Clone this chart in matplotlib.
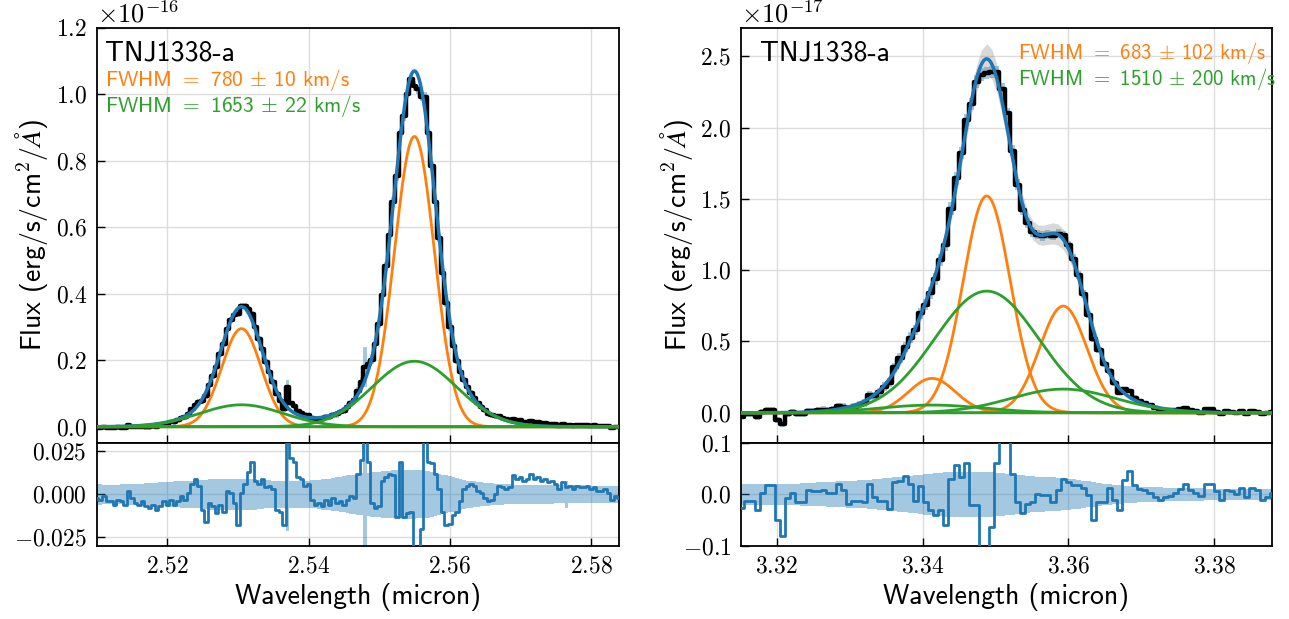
import numpy as np
import matplotlib
matplotlib.use('Agg')
import matplotlib.pyplot as plt
from matplotlib.ticker import FuncFormatter, MultipleLocator

plt.rcParams['font.family'] = ['cmss10', 'DejaVu Sans']
plt.rcParams['mathtext.fontset'] = 'cm'
plt.rcParams['axes.unicode_minus'] = False

C_KMS = 299792.458

# ---- left panel: [OIII] 4959/5007 (flux in 1e-16) ----
wave_l_start, wave_l_step = 2.5100, 0.0005
flux_l = [-0.002, -0.003, -0.001, -0.004, -0.004, -0.005, -0.002, -0.003, -0.005, 0.004,
          0.000, -0.002, -0.002, 0.000, -0.002, -0.002, 0.002, 0.000, 0.004, 0.008,
          0.009, 0.014, 0.014, 0.019, 0.026, 0.029, 0.039, 0.052, 0.066, 0.075,
          0.077, 0.091, 0.126, 0.152, 0.180, 0.218, 0.248, 0.293, 0.321, 0.337,
          0.338, 0.362, 0.362, 0.355, 0.339, 0.299, 0.264, 0.233, 0.195, 0.164,
          0.135, 0.099, 0.078, 0.053, 0.119, 0.070, 0.061, 0.047, 0.042, 0.035,
          0.034, 0.025, 0.022, 0.023, 0.022, 0.028, 0.028, 0.036, 0.037, 0.044,
          0.048, 0.059, 0.070, 0.081, 0.109, 0.136, 0.179, 0.188, 0.202, 0.248,
          0.309, 0.397, 0.482, 0.578, 0.676, 0.753, 0.882, 0.934, 1.002, 1.045,
          1.025, 1.015, 0.993, 0.992, 0.882, 0.784, 0.677, 0.569, 0.462, 0.371,
          0.299, 0.244, 0.197, 0.165, 0.141, 0.119, 0.102, 0.086, 0.071, 0.060,
          0.049, 0.039, 0.034, 0.031, 0.032, 0.027, 0.022, 0.020, 0.024, 0.020,
          0.019, 0.015, 0.015, 0.017, 0.013, 0.013, 0.010, 0.011, 0.008, 0.009,
          0.007, 0.003, 0.007, 0.004, 0.005, 0.003, 0.005, 0.004, 0.004, 0.005,
          0.003, 0.004, 0.002, 0.002, 0.003, 0.001, -0.003, -0.001, -0.002]
resid_l = [-0.002, -0.003, -0.001, -0.004, -0.004, -0.006, -0.003, -0.004, -0.006, 0.002,
           -0.002, -0.005, -0.006, -0.004, -0.007, -0.008, -0.006, -0.009, -0.007, -0.004,
           -0.006, -0.003, -0.006, -0.004, -0.001, -0.003, 0.001, 0.006, 0.009, 0.005,
           -0.009, -0.016, -0.005, -0.007, -0.011, -0.006, -0.010, 0.002, 0.001, -0.005,
           -0.018, 0.001, 0.006, 0.013, 0.019, 0.008, 0.006, 0.009, 0.004, 0.005,
           0.003, -0.009, -0.010, -0.018, 0.060, 0.021, 0.019, 0.010, 0.009, 0.005,
           0.006, -0.003, -0.006, -0.005, -0.007, -0.003, -0.006, -0.002, -0.005, -0.004,
           -0.006, -0.003, -0.001, -0.002, 0.012, 0.020, 0.040, 0.019, -0.005, -0.008,
           -0.007, 0.008, 0.010, 0.012, 0.011, -0.013, 0.019, -0.013, -0.011, -0.010,
           -0.045, -0.040, -0.020, 0.045, 0.019, 0.018, 0.012, 0.003, -0.010, -0.018,
           -0.017, -0.012, -0.010, -0.004, 0.003, 0.005, 0.006, 0.005, 0.002, 0.001,
           -0.002, -0.004, -0.003, 0.000, 0.005, 0.004, 0.003, 0.004, 0.011, 0.009,
           0.010, 0.008, 0.009, 0.012, 0.009, 0.010, 0.008, 0.009, 0.007, 0.008,
           0.006, 0.003, 0.007, 0.004, 0.005, 0.003, 0.005, 0.004, 0.004, 0.005,
           0.003, 0.004, 0.002, 0.002, 0.003, 0.001, -0.003, -0.001, -0.002]
err_l = [0.006, 0.006, 0.0055, 0.0055, 0.0055, 0.0055, 0.0055, 0.0058, 0.0058, 0.006,
         0.006, 0.006, 0.0062, 0.0062, 0.0065, 0.0065, 0.0068, 0.0068, 0.007, 0.007,
         0.0072, 0.0072, 0.0075, 0.0075, 0.0078, 0.0078, 0.008, 0.008, 0.0082, 0.0082,
         0.0085, 0.0085, 0.0088, 0.0088, 0.009, 0.009, 0.009, 0.0092, 0.0092, 0.0092,
         0.0092, 0.0092, 0.009, 0.009, 0.0088, 0.0088, 0.0085, 0.0085, 0.0082, 0.0082,
         0.008, 0.008, 0.008, 0.008, 0.021, 0.0078, 0.0078, 0.0078, 0.008, 0.008,
         0.008, 0.0082, 0.0082, 0.0085, 0.0088, 0.009, 0.0092, 0.0095, 0.0098, 0.010,
         0.0105, 0.011, 0.0112, 0.0115, 0.012, 0.0122, 0.060, 0.0125, 0.013, 0.013,
         0.0132, 0.0135, 0.0135, 0.0138, 0.014, 0.014, 0.014, 0.0142, 0.0142, 0.0142,
         0.0142, 0.014, 0.014, 0.0138, 0.0135, 0.013, 0.0125, 0.012, 0.0115, 0.011,
         0.0105, 0.010, 0.0095, 0.009, 0.0085, 0.008, 0.0078, 0.0075, 0.0072, 0.007,
         0.0068, 0.0066, 0.0064, 0.0062, 0.006, 0.006, 0.0058, 0.0058, 0.0056, 0.0056,
         0.0055, 0.0055, 0.0055, 0.0055, 0.0055, 0.0054, 0.0054, 0.0054, 0.0054, 0.0054,
         0.0053, 0.0053, 0.0053, 0.008, 0.0053, 0.0052, 0.0052, 0.0052, 0.0052, 0.0052,
         0.005, 0.005, 0.005, 0.005, 0.005, 0.005, 0.005, 0.005, 0.005]
narrow_l_cen = [2.5305, 2.5550]
narrow_l_amp = [0.295, 0.873]
broad_l_cen = [2.5305, 2.5550]
broad_l_amp = [0.066, 0.197]
fwhm_l = [780, 1653]
fwhm_l_err = [10, 22]

# ---- right panel: Halpha + [NII] (flux in 1e-17) ----
wave_r_start, wave_r_step = 3.3152, 0.0007
flux_r = [-0.027, -0.012, -0.012, -0.031, 0.003, 0.019, 0.019, -0.050, -0.080, -0.008,
          0.005, -0.011, -0.010, 0.014, 0.013, 0.016, 0.021, 0.018, 0.023, 0.046,
          0.041, 0.024, 0.041, 0.054, 0.068, 0.122, 0.120, 0.145, 0.183, 0.212,
          0.319, 0.383, 0.464, 0.527, 0.579, 0.697, 0.757, 0.840, 0.938, 1.068,
          1.178, 1.432, 1.644, 1.822, 2.053, 2.166, 2.322, 2.371, 2.381, 2.389,
          2.391, 2.270, 2.100, 1.838, 1.600, 1.425, 1.332, 1.265, 1.250, 1.241,
          1.250, 1.243, 1.257, 1.245, 1.176, 1.081, 0.967, 0.833, 0.689, 0.518,
          0.440, 0.344, 0.292, 0.208, 0.141, 0.164, 0.154, 0.107, 0.083, 0.067,
          0.051, 0.035, 0.022, 0.021, 0.018, 0.020, 0.024, 0.031, 0.017, 0.009,
          0.001, 0.024, 0.023, 0.008, -0.009, 0.009, 0.007, 0.001, 0.013, -0.006,
          0.012, 0.008, -0.011, -0.005, 0.002]
resid_r = [-0.027, -0.012, -0.012, -0.031, 0.003, 0.019, 0.019, -0.050, -0.080, -0.008,
           0.003, -0.014, -0.014, 0.008, 0.006, 0.006, 0.008, 0.002, 0.002, 0.020,
           0.008, -0.018, -0.012, -0.012, -0.014, 0.020, -0.006, -0.012, -0.012, -0.028,
           0.024, 0.026, 0.035, 0.020, -0.012, 0.017, -0.015, -0.030, -0.040, -0.030,
           -0.060, 0.030, 0.057, 0.034, 0.060, -0.021, -0.021, -0.110, -0.120, -0.063,
           0.060, 0.110, 0.110, 0.040, -0.015, -0.037, -0.018, -0.015, 0.001, -0.002,
           -0.002, -0.015, 0.008, 0.030, 0.024, 0.019, 0.018, 0.012, -0.002, -0.050,
           -0.015, -0.015, 0.012, -0.011, -0.030, 0.028, 0.045, 0.019, 0.011, 0.008,
           0.002, -0.006, -0.011, -0.006, -0.004, 0.002, 0.010, 0.020, 0.008, 0.002,
           -0.004, 0.020, 0.020, 0.006, -0.011, 0.008, 0.006, 0.000, 0.012, -0.006,
           0.012, 0.008, -0.011, -0.005, 0.002]
err_r = [0.020, 0.020, 0.020, 0.020, 0.020, 0.020, 0.020, 0.020, 0.020, 0.020,
         0.021, 0.021, 0.022, 0.022, 0.022, 0.023, 0.023, 0.024, 0.024, 0.025,
         0.025, 0.026, 0.026, 0.027, 0.027, 0.028, 0.029, 0.030, 0.031, 0.032,
         0.033, 0.034, 0.035, 0.036, 0.037, 0.038, 0.039, 0.040, 0.041, 0.042,
         0.043, 0.043, 0.044, 0.044, 0.044, 0.044, 0.044, 0.044, 0.043, 0.043,
         0.042, 0.041, 0.040, 0.039, 0.038, 0.037, 0.036, 0.035, 0.034, 0.034,
         0.033, 0.033, 0.032, 0.031, 0.030, 0.029, 0.028, 0.026, 0.025, 0.024,
         0.022, 0.021, 0.020, 0.019, 0.018, 0.017, 0.016, 0.016, 0.015, 0.015,
         0.014, 0.014, 0.014, 0.013, 0.013, 0.013, 0.012, 0.012, 0.012, 0.012,
         0.012, 0.011, 0.011, 0.011, 0.011, 0.011, 0.010, 0.010, 0.010, 0.010,
         0.010, 0.010, 0.010, 0.010, 0.010]
model_err_r = [0.010] * 20 + [
    0.012, 0.013, 0.014, 0.015, 0.016, 0.018, 0.020, 0.022, 0.024, 0.026,
    0.028, 0.030, 0.032, 0.034, 0.036, 0.038, 0.040, 0.042, 0.045, 0.048,
    0.052, 0.057, 0.063, 0.070, 0.078, 0.086, 0.094, 0.100, 0.105, 0.105,
    0.100, 0.094, 0.086, 0.078, 0.072, 0.068, 0.066, 0.066, 0.068, 0.070,
    0.072, 0.074, 0.074, 0.072, 0.068, 0.062, 0.056, 0.050, 0.045, 0.040,
    0.036, 0.032, 0.029, 0.026, 0.023, 0.020, 0.018, 0.016, 0.015, 0.014,
    0.013, 0.012, 0.012, 0.011, 0.011] + [0.010] * 20
narrow_r_cen = [3.3413, 3.3488, 3.3593]
narrow_r_amp = [0.241, 1.520, 0.748]
broad_r_cen = [3.3413, 3.3488, 3.3593]
broad_r_amp = [0.054, 0.853, 0.166]
fwhm_r = [683, 1510]
fwhm_r_err = [102, 200]


def gauss(x, amp, cen, fwhm):
    sig = cen * fwhm / C_KMS / (2 * np.sqrt(2 * np.log(2)))
    return amp * np.exp(-0.5 * ((x - cen) / sig) ** 2)


def mfmt(fmt):
    def f(v, pos):
        s = fmt.format(v)
        if s.startswith('-') and float(s) == 0:
            s = s[1:]
        return '$' + s + '$'
    return FuncFormatter(f)


def style(ax):
    ax.tick_params(direction='in', length=6, width=1.0, labelsize=17, pad=7,
                   top=False, right=False)
    ax.grid(True, color='#dcdcdc', lw=1.0)
    ax.set_axisbelow(True)
    for sp in ax.spines.values():
        sp.set_linewidth(1.3)


def draw(ax, axr, wave, flux, err, resid, ncen, namp, bcen, bamp, fwhm,
         xlim, model_err=None):
    wave = np.asarray(wave)
    flux = np.asarray(flux)
    err = np.asarray(err)
    xf = np.linspace(xlim[0], xlim[1], 1500)
    narrow = [gauss(xf, a, c, fwhm[0]) for c, a in zip(ncen, namp)]
    broad = [gauss(xf, a, c, fwhm[1]) for c, a in zip(bcen, bamp)]
    total = np.sum(narrow, axis=0) + np.sum(broad, axis=0)

    ax.fill_between(wave, flux - err, flux + err, step='mid', color='#1f77b4',
                    alpha=0.4, lw=0, zorder=2)
    if model_err is not None:
        mod = sum(gauss(wave, a, c, fwhm[0]) for c, a in zip(ncen, namp)) + \
            sum(gauss(wave, a, c, fwhm[1]) for c, a in zip(bcen, bamp))
        me = np.asarray(model_err)
        ax.fill_between(wave, mod - me, mod + me, color='gray', alpha=0.3,
                        lw=0, zorder=2.5)
    ax.step(wave, flux, where='mid', color='k', lw=3.2, zorder=3)
    ax.plot(xf, total, color='#1f77b4', lw=2.5, zorder=4)
    for n in narrow:
        ax.plot(xf, n, color='#ff7f0e', lw=2.0, zorder=5)
    for b in broad:
        ax.plot(xf, b, color='#2ca02c', lw=2.0, zorder=6)
    ax.plot(xf, np.zeros_like(xf), color='#2ca02c', lw=2.0, zorder=6)

    axr.fill_between(wave, -err, err, step='mid', color='#1f77b4', alpha=0.4,
                     lw=0, zorder=2)
    axr.step(wave, resid, where='mid', color='#1f77b4', lw=2.0, zorder=3)

    for a in (ax, axr):
        a.set_xlim(*xlim)
        style(a)
    ax.tick_params(labelbottom=False)
    ax.xaxis.set_major_locator(MultipleLocator(0.02))
    axr.xaxis.set_major_locator(MultipleLocator(0.02))
    axr.xaxis.set_major_formatter(mfmt('{:.2f}'))
    ax.set_ylabel(r'Flux (erg/s/cm$^2$/$\AA$)', fontsize=20)
    axr.set_xlabel('Wavelength (micron)', fontsize=20)


fig = plt.figure(figsize=(12.89, 6.19), dpi=100)

# left
wave_l = wave_l_start + wave_l_step * np.arange(len(flux_l))
axL = fig.add_axes([0.075, 0.2848, 0.4054, 0.6704])
axLr = fig.add_axes([0.075, 0.1179, 0.4054, 0.1669])
draw(axL, axLr, wave_l, flux_l, err_l, resid_l, narrow_l_cen, narrow_l_amp,
     broad_l_cen, broad_l_amp, fwhm_l, (2.510, 2.584))
axL.set_ylim(-0.048, 1.2)
axL.yaxis.set_major_locator(MultipleLocator(0.2))
axL.yaxis.set_major_formatter(mfmt('{:.1f}'))
axLr.set_ylim(-0.03, 0.03)
axLr.yaxis.set_major_locator(MultipleLocator(0.025))
axLr.yaxis.set_major_formatter(mfmt('{:.3f}'))
axL.text(0.0, 1.0, r'$\times10^{-16}$', transform=axL.transAxes, fontsize=19,
         ha='left', va='bottom')
axL.text(0.016, 0.92, 'TNJ1338-a', transform=axL.transAxes, fontsize=20,
         va='baseline')
axL.text(0.016, 0.8595, r'FWHM $=$ %d $\pm$ %d km/s' % (fwhm_l[0], fwhm_l_err[0]),
         transform=axL.transAxes, fontsize=15.5, color='#ff7f0e', va='baseline')
axL.text(0.016, 0.796, r'FWHM $=$ %d $\pm$ %d km/s' % (fwhm_l[1], fwhm_l_err[1]),
         transform=axL.transAxes, fontsize=15.5, color='#2ca02c', va='baseline')

# right
wave_r = wave_r_start + wave_r_step * np.arange(len(flux_r))
axR = fig.add_axes([0.5749, 0.2848, 0.4117, 0.6704])
axRr = fig.add_axes([0.5749, 0.1179, 0.4117, 0.1669])
draw(axR, axRr, wave_r, flux_r, err_r, resid_r, narrow_r_cen, narrow_r_amp,
     broad_r_cen, broad_r_amp, fwhm_r, (3.3151, 3.3879), model_err=model_err_r)
axR.set_ylim(-0.21, 2.7)
axR.yaxis.set_major_locator(MultipleLocator(0.5))
axR.yaxis.set_major_formatter(mfmt('{:.1f}'))
axRr.set_ylim(-0.1, 0.1)
axRr.yaxis.set_major_locator(MultipleLocator(0.1))
axRr.yaxis.set_major_formatter(mfmt('{:.1f}'))
axR.text(0.0, 1.0, r'$\times10^{-17}$', transform=axR.transAxes, fontsize=19,
         ha='left', va='bottom')
axR.text(0.036, 0.92, 'TNJ1338-a', transform=axR.transAxes, fontsize=20,
         va='baseline')
axR.text(0.521, 0.924, r'FWHM $=$ %d $\pm$ %d km/s' % (fwhm_r[0], fwhm_r_err[0]),
         transform=axR.transAxes, fontsize=15, color='#ff7f0e', va='baseline')
axR.text(0.521, 0.862, r'FWHM $=$ %d $\pm$ %d km/s' % (fwhm_r[1], fwhm_r_err[1]),
         transform=axR.transAxes, fontsize=15, color='#2ca02c', va='baseline')

fig.savefig('out.png', dpi=100)
